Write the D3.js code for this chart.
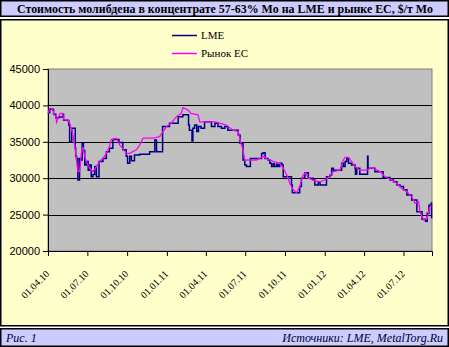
<!DOCTYPE html>
<html><head><meta charset="utf-8">
<script src="https://cdn.jsdelivr.net/npm/d3@7"></script>
<style>body{margin:0;background:#fff}svg{display:block}
.sf{font-family:"Liberation Serif","Times New Roman",Times,"DejaVu Serif","Noto Serif",serif}
.ss{font-family:"Liberation Sans",Arial,Helvetica,sans-serif}
</style>
</head><body>
<svg id="c" width="449" height="347"></svg>
<script>
const title = "Стоимость молибдена в концентрате 57-63% Mo на LME и рынке ЕС, $/т Mo";
const seriesNames = ["LME", "Рынок ЕС"];
const yTicks = [20000, 25000, 30000, 35000, 40000, 45000];
const xTickLabels = ["01.04.10","01.07.10","01.10.10","01.01.11","01.04.11","01.07.11","01.10.11","01.01.12","01.04.12","01.07.12"];
const footerLeft = "Рис. 1";
const footerRight = "Источники: LME, MetalTorg.Ru";

const lmeDates = ["2010-04-01","2010-04-05","2010-04-12","2010-04-14","2010-04-19","2010-04-26","2010-05-05","2010-05-07","2010-05-17",
"2010-05-19","2010-05-21","2010-05-26","2010-06-01","2010-06-03","2010-06-04","2010-06-06","2010-06-09","2010-06-13","2010-06-17","2010-06-19","2010-06-22","2010-06-25","2010-06-29",
"2010-07-03","2010-07-06","2010-07-10","2010-07-14","2010-07-18","2010-07-22","2010-07-25","2010-07-28","2010-08-06","2010-08-14","2010-08-21","2010-08-29","2010-09-12","2010-09-21","2010-09-29",
"2010-10-02","2010-10-07","2010-10-11","2010-10-18","2010-10-30","2010-11-15","2010-11-22","2010-11-30","2010-12-04","2010-12-08","2010-12-19","2010-12-22",
"2011-01-07","2011-01-23","2011-01-27","2011-02-07","2011-02-18","2011-02-20","2011-02-22","2011-02-26","2011-02-28","2011-03-02","2011-03-06","2011-03-11","2011-03-15","2011-03-21","2011-03-29",
"2011-04-05","2011-04-14","2011-04-22","2011-04-29","2011-05-07","2011-05-15","2011-05-22","2011-06-07","2011-06-15","2011-06-19","2011-06-26","2011-06-30","2011-07-04","2011-07-12","2011-07-13","2011-07-27",
"2011-08-08","2011-08-12","2011-08-16","2011-08-23","2011-08-27","2011-08-31","2011-09-04","2011-09-07","2011-09-12","2011-09-15","2011-09-19","2011-09-24","2011-09-27",
"2011-10-08","2011-10-16","2011-10-18","2011-10-31","2011-11-04","2011-11-08","2011-11-16","2011-11-24","2011-12-05","2011-12-09","2011-12-17","2011-12-21",
"2012-01-01","2012-01-05","2012-01-13","2012-01-17","2012-01-21","2012-02-05","2012-02-09","2012-02-13","2012-02-17","2012-02-21","2012-02-25","2012-03-03","2012-03-11","2012-03-12","2012-03-15","2012-03-22",
"2012-04-07","2012-04-09","2012-04-10","2012-04-26","2012-05-08","2012-05-15","2012-05-26","2012-05-31","2012-06-08","2012-06-16","2012-06-23","2012-07-01","2012-07-09","2012-07-13","2012-07-20","2012-07-28",
"2012-08-01","2012-08-09","2012-08-13","2012-08-21","2012-08-25","2012-08-29","2012-09-03","2012-09-04"];
const lmeValues = [39000,39500,39400,38800,38300,38400,38800,38000,37900,
37300,35000,36850,36850,34100,33000,32700,29750,32700,32500,34800,33800,31800,32300,
31100,31800,30200,30500,31600,30200,30200,32300,32700,33650,34100,35300,34900,33900,33000,
32050,33000,32400,33200,33300,33300,33650,33650,35250,33650,33650,37100,
37550,37550,38450,38700,38700,37300,36600,36600,35100,36850,37300,36400,37100,36850,37750,
37750,37100,37550,37100,36850,37100,36600,36600,35950,34800,32500,31800,31600,31600,32700,32700,
33400,33500,32700,32500,32050,31600,32000,31600,31900,31600,32050,31800,30200,
30200,29050,28000,28000,28850,30000,30750,30000,29750,29050,29500,29050,
29050,30200,30450,31350,31100,31100,32050,31600,32300,32700,32050,31800,31350,30550,31350,30550,
30550,33000,31350,30900,30900,30100,30100,29750,29500,29050,28850,28400,27700,27700,27000,27000,
25400,25400,24350,24100,25200,26300,26550,24500];

const euDates = ["2010-04-01","2010-04-05","2010-04-12","2010-04-14","2010-04-19","2010-04-21","2010-04-26","2010-04-29","2010-05-05","2010-05-07","2010-05-17","2010-05-21","2010-05-28",
"2010-06-01","2010-06-05","2010-06-09","2010-06-13","2010-06-17","2010-06-21","2010-06-25","2010-06-29","2010-07-06","2010-07-14","2010-07-22","2010-07-29",
"2010-08-06","2010-08-14","2010-08-21","2010-08-25","2010-09-06","2010-09-14","2010-09-21","2010-09-29","2010-10-07","2010-10-14","2010-10-22","2010-10-30",
"2010-11-07","2010-11-30","2010-12-15","2010-12-31","2011-01-11","2011-01-23","2011-02-03","2011-02-07","2011-02-18","2011-02-26","2011-03-14","2011-03-18",
"2011-04-06","2011-04-22","2011-05-03","2011-05-18","2011-06-03","2011-06-15","2011-06-19","2011-06-26","2011-06-30","2011-07-12","2011-07-27",
"2011-08-12","2011-08-19","2011-09-04","2011-09-19","2011-09-27","2011-10-05","2011-10-12","2011-10-20","2011-10-28","2011-11-04","2011-11-12","2011-11-18","2011-11-24",
"2011-12-05","2011-12-21","2012-01-01","2012-01-09","2012-01-21","2012-02-05","2012-02-13","2012-02-17","2012-02-25","2012-03-03","2012-03-11","2012-03-22",
"2012-04-07","2012-04-18","2012-04-26","2012-05-08","2012-05-19","2012-06-04","2012-06-16","2012-06-27","2012-07-09","2012-07-20","2012-07-28",
"2012-08-05","2012-08-09","2012-08-17","2012-08-25","2012-09-01","2012-09-03"];
const euValues = [38900,39600,39600,38900,38450,37700,38500,38900,38900,38100,38000,37550,36150,
34800,33000,30900,30900,33400,34300,33000,32300,31400,30900,31600,32300,
32700,33400,34300,35300,35500,34550,34100,33400,33400,33650,33900,34550,
35500,35500,35700,37100,37550,38450,38900,39700,39400,38900,38700,37750,
37750,37750,37550,37300,36600,36400,35250,33900,32500,32500,32500,
33000,32700,32300,32050,31400,30450,29300,28400,28000,28850,30450,30750,30000,
29750,29500,29750,30100,30900,31100,32500,32850,32850,32300,31600,31100,
31100,31450,31250,30900,30200,29750,29300,28600,28150,27450,26550,
26800,25200,24250,24500,26100,26300];

const svg = d3.select("#c");
const parse = d3.timeParse("%Y-%m-%d");

// title bar
svg.append("rect").attr("x",0.75).attr("y",0.75).attr("width",447.5).attr("height",15.5)
  .attr("fill","#ccccff").attr("stroke","#000").attr("stroke-width",1.5);
svg.append("text").attr("class","sf").attr("x",17).attr("y",13)
  .attr("font-weight","bold").attr("font-size",12).attr("fill","#000")
  .attr("textLength",416).attr("lengthAdjust","spacingAndGlyphs")
  .text(title);

// main panel
svg.append("rect").attr("x",0.75).attr("y",19.75).attr("width",447.5).attr("height",306)
  .attr("fill","#ffffcc").attr("stroke","#000").attr("stroke-width",1.5);

// footer
svg.append("rect").attr("x",0.75).attr("y",328.75).attr("width",447.5).attr("height",17.5)
  .attr("fill","#ccccff").attr("stroke","#000").attr("stroke-width",1.5);
svg.append("text").attr("class","sf").attr("x",6).attr("y",342).attr("font-style","italic")
  .attr("font-size",12).attr("fill","#000033").text(footerLeft);
svg.append("text").attr("class","sf").attr("x",443).attr("y",342).attr("text-anchor","end").attr("font-style","italic")
  .attr("font-size",12).attr("fill","#000033").text(footerRight);

const L=48, R=432, T=69, B=251;
const x = d3.scaleTime().domain([parse("2010-04-01"), parse("2012-09-05")]).range([L,R]);
const y = d3.scaleLinear().domain([20000,45000]).range([B,T]);

svg.append("rect").attr("x",L).attr("y",T).attr("width",R-L).attr("height",B-T)
  .attr("fill","#c0c0c0").attr("stroke","#808080").attr("stroke-width",1);

// gridlines
svg.append("g").selectAll("line").data(yTicks.filter(v=>v>20000 && v<45000)).join("line")
  .attr("x1",L).attr("x2",R).attr("y1",d=>Math.round(y(d))+0.5).attr("y2",d=>Math.round(y(d))+0.5)
  .attr("stroke","#000").attr("stroke-width",1);

// y axis
const yAxis = svg.append("g").attr("transform",`translate(${L},0)`)
  .call(d3.axisLeft(y).tickValues(yTicks).tickSize(5).tickPadding(3).tickFormat(d3.format("d")));
yAxis.attr("font-family",null);
yAxis.select(".domain").attr("stroke","#000");
yAxis.selectAll("text").attr("class","ss").attr("font-size",11).attr("fill","#000");

// x axis
const xDates = xTickLabels.map(s=>{const [d,m,yy]=s.split(".");return new Date(2000+ +yy, +m-1, +d);});
const xAxis = svg.append("g").attr("transform",`translate(0,${B})`)
  .call(d3.axisBottom(x).tickValues(xDates).tickSize(5).tickFormat((d,i)=>xTickLabels[i]));
xAxis.attr("font-family",null);
xAxis.select(".domain").attr("stroke","#000");
xAxis.selectAll("text").attr("class","sf").attr("font-size",10).attr("fill","#000")
  .attr("text-anchor","end").attr("dy","0.35em").attr("y",0)
  .attr("transform","translate(-1,21) rotate(-45)");

// lines
const lmeData = lmeDates.map((d,i)=>({d:parse(d),v:lmeValues[i]}));
const euData = euDates.map((d,i)=>({d:parse(d),v:euValues[i]}));
svg.append("path").datum(lmeData).attr("fill","none").attr("stroke","#000080").attr("stroke-width",1.5)
  .attr("d",d3.line().x(p=>x(p.d)).y(p=>y(p.v)).curve(d3.curveStepAfter));
svg.append("path").datum(euData).attr("fill","none").attr("stroke","#ff00ff").attr("stroke-width",1.3)
  .attr("d",d3.line().x(p=>x(p.d)).y(p=>y(p.v)));

// legend
const colors = ["#000080","#ff00ff"];
const lg = svg.append("g");
seriesNames.forEach((n,i)=>{
  const yy = 35 + i*18;
  lg.append("line").attr("x1",172).attr("x2",197).attr("y1",yy+0.5).attr("y2",yy+0.5).attr("stroke",colors[i]).attr("stroke-width",1.5);
  lg.append("text").attr("class","sf").attr("x",201).attr("y",yy+4).attr("font-size",11).attr("fill","#000").text(n);
});
</script>
</body></html>
